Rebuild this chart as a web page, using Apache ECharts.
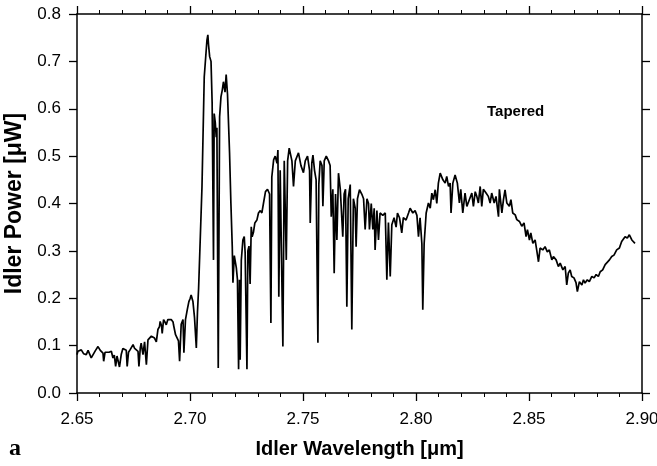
<!DOCTYPE html>
<html>
<head>
<meta charset="utf-8">
<script src="https://cdn.jsdelivr.net/npm/echarts@6/dist/echarts.min.js"></script>
<style>
  html, body { margin: 0; padding: 0; background: #fff; }
  #chart { width: 657px; height: 466px; }
</style>
</head>
<body>
<div id="chart"></div>
<script>
// idler spectrum
const wavelength = [
  2.6500, 2.6504, 2.6519, 2.6529, 2.6541, 2.6549, 2.6556, 2.6563, 2.6571, 2.6582,
  2.6593, 2.6603, 2.6615, 2.6618, 2.6624, 2.6630, 2.6642, 2.6652, 2.6659, 2.6665,
  2.6671, 2.6677, 2.6681, 2.6688, 2.6696, 2.6703, 2.6711, 2.6718, 2.6722, 2.6728,
  2.6736, 2.6748, 2.6755, 2.6762, 2.6770, 2.6774, 2.6780, 2.6784, 2.6792, 2.6799,
  2.6807, 2.6814, 2.6821, 2.6829, 2.6836, 2.6843, 2.6851, 2.6858, 2.6865, 2.6868,
  2.6874, 2.6877, 2.6883, 2.6889, 2.6895, 2.6902, 2.6910, 2.6917, 2.6925, 2.6927,
  2.6936, 2.6944, 2.6949, 2.6954, 2.6961, 2.6969, 2.6973, 2.6980, 2.6988, 2.6995,
  2.7001, 2.7005, 2.7013, 2.7020, 2.7028, 2.7033,
  2.7038, 2.7053, 2.7063, 2.7075, 2.7079, 2.7082, 2.7087, 2.7093, 2.7098, 2.7104,
  2.7107, 2.7112, 2.7116, 2.7119, 2.7125, 2.7131, 2.7137, 2.7143, 2.7148, 2.7155,
  2.7160, 2.7166, 2.7175, 2.7181, 2.7187, 2.7190, 2.7196, 2.7205, 2.7210, 2.7215,
  2.7219, 2.7222, 2.7227, 2.7234, 2.7240, 2.7244, 2.7252, 2.7256, 2.7261, 2.7266,
  2.7271, 2.7275, 2.7281, 2.7287, 2.7296, 2.7303, 2.7311, 2.7318, 2.7325, 2.7334,
  2.7343, 2.7352,
  2.7358, 2.7362, 2.7370, 2.7377, 2.7385, 2.7389, 2.7393, 2.7399, 2.7405, 2.7411,
  2.7417, 2.7426, 2.7432, 2.7439, 2.7451, 2.7458, 2.7466, 2.7480, 2.7491, 2.7502,
  2.7510, 2.7520, 2.7529, 2.7532, 2.7539, 2.7544, 2.7551, 2.7558, 2.7566, 2.7570,
  2.7576, 2.7584, 2.7588, 2.7594, 2.7603, 2.7613, 2.7620, 2.7625, 2.7632, 2.7638,
  2.7644, 2.7650, 2.7657, 2.7665, 2.7672, 2.7676, 2.7682, 2.7688, 2.7694, 2.7700,
  2.7709, 2.7716, 2.7723, 2.7731, 2.7735, 2.7741, 2.7750, 2.7760, 2.7768, 2.7775,
  2.7783, 2.7790, 2.7794,
  2.7802, 2.7809, 2.7815, 2.7819, 2.7827, 2.7834, 2.7841, 2.7853, 2.7864, 2.7871,
  2.7878, 2.7886, 2.7893, 2.7903, 2.7912, 2.7918, 2.7927, 2.7937, 2.7944, 2.7956,
  2.7967, 2.7974, 2.7986, 2.7996, 2.8004, 2.8011, 2.8018, 2.8026, 2.8030, 2.8036,
  2.8045, 2.8055, 2.8063, 2.8070, 2.8077, 2.8085, 2.8092, 2.8099, 2.8107, 2.8119,
  2.8129, 2.8136, 2.8144, 2.8151, 2.8155, 2.8163, 2.8173, 2.8183, 2.8192, 2.8198,
  2.8207, 2.8217, 2.8225, 2.8236,
  2.8239, 2.8247, 2.8254, 2.8262, 2.8269, 2.8276, 2.8284, 2.8291, 2.8298, 2.8310,
  2.8320, 2.8328, 2.8335, 2.8346, 2.8354, 2.8365, 2.8369, 2.8380, 2.8387, 2.8394,
  2.8402, 2.8413, 2.8420, 2.8428, 2.8439, 2.8446, 2.8458, 2.8468, 2.8478, 2.8487,
  2.8493, 2.8502, 2.8508, 2.8517, 2.8527, 2.8534, 2.8542, 2.8549, 2.8561, 2.8571,
  2.8581, 2.8590, 2.8601, 2.8608, 2.8620, 2.8630, 2.8638, 2.8650, 2.8660, 2.8667,
  2.8674, 2.8682, 2.8689, 2.8699, 2.8708, 2.8714, 2.8723, 2.8734, 2.8741, 2.8748,
  2.8758, 2.8767, 2.8778, 2.8788, 2.8797, 2.8807, 2.8815, 2.8826, 2.8837, 2.8844,
  2.8856, 2.8866, 2.8876, 2.8888, 2.8900, 2.8910, 2.8917, 2.8925, 2.8935, 2.8944,
  2.8955, 2.8962, 2.8969
]

const power = [
  0.081, 0.088, 0.091, 0.083, 0.081, 0.090, 0.088, 0.074, 0.078, 0.090,
  0.098, 0.090, 0.084, 0.067, 0.086, 0.088, 0.086, 0.088, 0.074, 0.080,
  0.056, 0.078, 0.081, 0.055, 0.082, 0.094, 0.098, 0.090, 0.056, 0.086,
  0.092, 0.102, 0.094, 0.098, 0.088, 0.056, 0.095, 0.105, 0.081, 0.108,
  0.060, 0.112, 0.115, 0.120, 0.118, 0.116, 0.108, 0.134, 0.140, 0.151,
  0.142, 0.126, 0.155, 0.150, 0.144, 0.155, 0.152, 0.155, 0.150, 0.144,
  0.123, 0.120, 0.110, 0.067, 0.145, 0.155, 0.085, 0.155, 0.176, 0.193,
  0.200, 0.207, 0.193, 0.159, 0.095, 0.170,
  0.220, 0.435, 0.667, 0.745, 0.756, 0.735, 0.710, 0.700, 0.612, 0.281,
  0.590, 0.570, 0.540, 0.560, 0.053, 0.583, 0.625, 0.640, 0.657, 0.635,
  0.672, 0.630, 0.507, 0.400, 0.309, 0.233, 0.290, 0.264, 0.239, 0.050,
  0.239, 0.070, 0.280, 0.323, 0.330, 0.296, 0.050, 0.300, 0.310, 0.230,
  0.351, 0.330, 0.340, 0.359, 0.365, 0.380, 0.385, 0.380, 0.400, 0.425,
  0.430, 0.420,
  0.148, 0.456, 0.492, 0.500, 0.485, 0.513, 0.203, 0.470, 0.470, 0.098,
  0.490, 0.281, 0.490, 0.517, 0.490, 0.436, 0.490, 0.507, 0.480, 0.465,
  0.490, 0.500, 0.470, 0.359, 0.485, 0.502, 0.470, 0.450, 0.106, 0.440,
  0.490, 0.480, 0.394, 0.490, 0.500, 0.490, 0.480, 0.372, 0.430, 0.253,
  0.420, 0.323, 0.464, 0.430, 0.430, 0.330, 0.420, 0.430, 0.182, 0.410,
  0.440, 0.134, 0.410, 0.390, 0.309, 0.410, 0.429, 0.420, 0.410, 0.345,
  0.410, 0.400, 0.345,
  0.400, 0.345, 0.390, 0.302, 0.385, 0.323, 0.380, 0.375, 0.380, 0.239,
  0.360, 0.246, 0.355, 0.370, 0.350, 0.380, 0.370, 0.338, 0.370, 0.365,
  0.380, 0.390, 0.380, 0.385, 0.375, 0.330, 0.370, 0.315, 0.176, 0.315,
  0.380, 0.401, 0.390, 0.422, 0.408, 0.429, 0.400, 0.443, 0.464, 0.450,
  0.443, 0.457, 0.436, 0.443, 0.380, 0.443, 0.460, 0.443, 0.401, 0.430,
  0.380, 0.422, 0.394, 0.408,
  0.408, 0.422, 0.394, 0.425, 0.415, 0.401, 0.436, 0.394, 0.430, 0.422,
  0.415, 0.401, 0.422, 0.401, 0.415, 0.372, 0.430, 0.380, 0.408, 0.429,
  0.401, 0.394, 0.408, 0.380, 0.376, 0.366, 0.362, 0.352, 0.359, 0.330,
  0.345, 0.323, 0.338, 0.316, 0.323, 0.302, 0.277, 0.306, 0.302, 0.309,
  0.298, 0.302, 0.281, 0.288, 0.281, 0.267, 0.274, 0.260, 0.267, 0.228,
  0.253, 0.260, 0.246, 0.243, 0.233, 0.214, 0.235, 0.228, 0.239, 0.232,
  0.239, 0.235, 0.246, 0.243, 0.250, 0.246, 0.256, 0.260, 0.271, 0.267,
  0.281, 0.288, 0.291, 0.302, 0.306, 0.320, 0.316, 0.330, 0.327, 0.334,
  0.323, 0.327, 0.316
]

const xTicks = ['2.65', '2.70', '2.75', '2.80', '2.85', '2.90']
const yTicks = ['0.0', '0.1', '0.2', '0.3', '0.4', '0.5', '0.6', '0.7', '0.8']

const font = '"Liberation Sans", Arial, sans-serif'
const axisLine = { show: true, onZero: false, lineStyle: { color: '#000', width: 1.5 } }
const tick = { show: true, inside: false, length: 8, lineStyle: { color: '#000', width: 1.3 } }
const minor = { show: true, splitNumber: 5, length: 4, lineStyle: { color: '#000', width: 1 } }

const xRange = { min: +xTicks[0], max: +xTicks[xTicks.length - 1], interval: 0.05 }
const yRange = { min: +yTicks[0], max: +yTicks[yTicks.length - 1], interval: 0.1 }

const chart = echarts.init(document.getElementById('chart'), null, { renderer: 'canvas' })

chart.setOption({
  animation: false,
  backgroundColor: '#fff',
  grid: { left: 77, right: 15, top: 14, bottom: 73, containLabel: false, outerBoundsMode: 'none' },
  xAxis: [
    {
      type: 'value', ...xRange, position: 'bottom',
      axisLine, axisTick: tick, minorTick: minor,
      splitLine: { show: false },
      axisLabel: {
        margin: 18, color: '#000', fontSize: 17, fontFamily: font,
        formatter: v => v.toFixed(2)
      },
      name: 'Idler Wavelength [\u03bcm]',
      nameLocation: 'middle', nameGap: 46,
      nameTextStyle: { color: '#000', fontSize: 20, fontWeight: 'bold', fontFamily: font }
    },
    {
      type: 'value', ...xRange, position: 'top',
      axisLine, axisTick: tick, minorTick: minor,
      splitLine: { show: false }, axisLabel: { show: false }
    }
  ],
  yAxis: [
    {
      type: 'value', ...yRange, position: 'left',
      axisLine, axisTick: tick,
      splitLine: { show: false },
      axisLabel: {
        margin: 16, color: '#000', fontSize: 17, fontFamily: font,
        formatter: v => v.toFixed(1)
      },
      name: 'Idler Power [\u03bcW]',
      nameLocation: 'middle', nameGap: 43,
      nameTextStyle: { color: '#000', fontSize: 23, fontWeight: 'bold', fontFamily: font }
    },
    {
      type: 'value', ...yRange, position: 'right',
      axisLine, axisTick: tick,
      splitLine: { show: false }, axisLabel: { show: false }
    }
  ],
  graphic: [
    {
      type: 'text', left: 487, top: 104,
      style: { text: 'Tapered', fill: '#000', font: 'bold 15px "Liberation Sans", Arial, sans-serif' }
    },
    {
      type: 'text', left: 9, top: 437,
      style: { text: 'a', fill: '#000', font: 'bold 24px "Liberation Serif", "Times New Roman", serif' }
    }
  ],
  series: [
    {
      type: 'line',
      xAxisIndex: 0, yAxisIndex: 0,
      data: wavelength.map((w, i) => [w, power[i]]),
      showSymbol: false,
      lineStyle: { color: '#000', width: 1.7 },
      silent: true
    }
  ]
})
</script>
</body>
</html>
